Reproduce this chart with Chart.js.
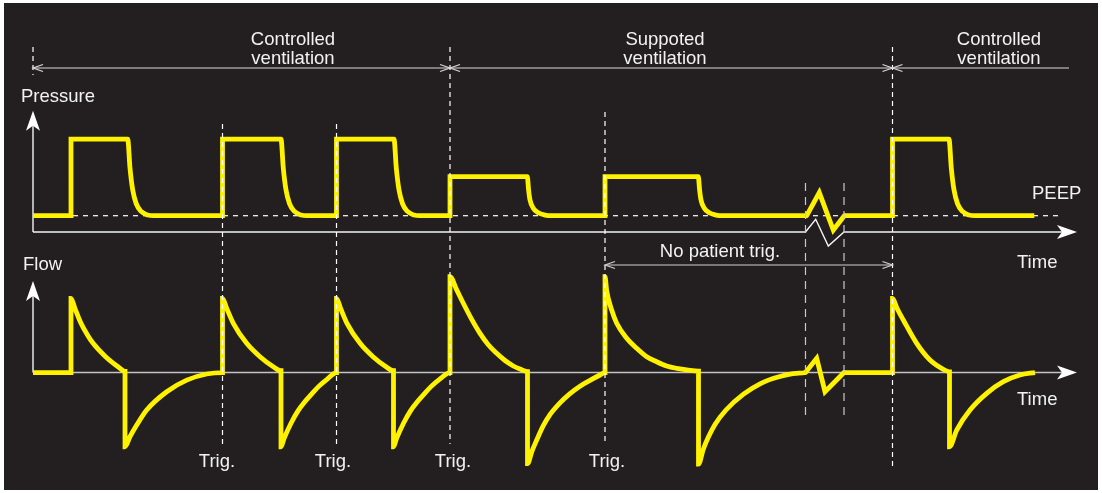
<!DOCTYPE html>
<html><head><meta charset="utf-8">
<script src="https://cdn.jsdelivr.net/npm/chart.js@4.4.1/dist/chart.umd.min.js"></script>
<style>
html,body{margin:0;padding:0;background:#ffffff;}
#wrap{width:1102px;height:493px;position:relative;}
</style>
</head><body>
<div id="wrap"><canvas id="c"></canvas></div>
<script>
// ---- DATA (time in s, pressure in cmH2O, flow in L/min) ----
const pressureTime = [0,0.38,0.38,0.947,0.970,0.997,1.032,1.082,1.147,1.207,
  1.895,1.895,2.480,2.503,2.530,2.565,2.615,2.680,2.740,
  3.035,3.035,3.610,3.633,3.660,3.695,3.745,3.810,3.870,
  4.170,4.170,4.943,4.956,4.970,5.003,5.053,5.120,5.186,
  5.720,5.720,6.653,6.666,6.680,6.713,6.763,6.830,6.896,
  7.737,7.863,8.003,8.113,
  8.595,8.595,9.160,9.183,9.210,9.245,9.295,9.360,9.420,10.013];
const pressureValue = [5,5,28.5,28.5,19.6,12.9,8.7,6.3,5.2,5.0,
  5,28.5,28.5,19.6,12.9,8.7,6.3,5.2,5.0,
  5,28.5,28.5,19.6,12.9,8.7,6.3,5.2,5.0,
  5,17,17,12.9,9.8,7.3,5.9,5.2,5.0,
  5,17,17,12.9,9.8,7.3,5.9,5.2,5.0,
  5,12.1,0.6,5,
  5,28.5,28.5,19.6,12.9,8.7,6.3,5.2,5.0,5];

const flowTime = [
  0,0.38,0.38,0.419,0.480,0.540,0.601,0.726,0.850,0.920,
  0.920,0.970,1.037,1.137,1.337,1.537,1.737,1.895,
  1.895,1.937,2.003,2.137,2.270,2.403,2.480,
  2.480,2.510,2.580,2.650,2.720,2.790,2.860,2.940,3.035,
  3.035,3.076,3.140,3.271,3.400,3.530,3.605,
  3.605,3.635,3.705,3.775,3.845,3.915,3.985,4.065,4.170,
  4.170,4.237,4.303,4.387,4.470,4.553,4.637,4.720,4.803,4.870,4.945,
  4.945,4.990,5.037,5.103,5.170,5.270,5.370,5.470,5.570,5.670,5.720,
  5.720,5.737,5.787,5.837,5.937,6.037,6.137,6.237,6.337,6.437,6.553,6.655,
  6.655,6.703,6.755,6.820,6.930,7.105,7.280,7.460,7.635,7.725,
  7.837,7.920,8.110,8.595,
  8.595,8.640,8.703,8.837,8.970,9.103,9.165,
  9.165,9.237,9.370,9.537,9.703,9.870,10.020];
const flowValue = [
  0,0,60,51.9,39.8,31,23.6,12.8,4.7,1.0,
  -60,-51.9,-42.5,-30.3,-15.5,-6.1,-1.2,0,
  60,51.9,39.8,23.6,12.8,4.7,1.5,
  -60,-53.5,-41,-31,-23.5,-17,-11,-5.5,0,
  60,51.9,39.8,23.6,12.8,4.7,1.5,
  -60,-53.5,-41,-31,-23.5,-17,-11,-5.5,0,
  77.5,66.8,56,43,31.7,22.5,15.5,9.7,5.3,2.8,0.8,
  -73.6,-63.5,-54.6,-43,-34,-24.5,-17,-11,-6.3,-2,0,
  77.5,66,50.5,39.8,27.7,19.6,12.8,8.7,5.3,3.4,2,1.2,
  -74,-62,-52,-42,-30.3,-17.5,-8.7,-3.4,-0.6,0,
  11.5,-15.5,0,0,
  60,52,42.5,23.6,10.1,2.6,0.6,
  -60,-46.5,-30.3,-16.8,-7.4,-2,0];

const triggerTimes = [1.895, 3.035, 4.17, 5.72];
const modeChangeTimes = [0, 4.17, 8.595];
const modeLabels = [['Controlled','ventilation'],['Suppoted','ventilation'],['Controlled','ventilation']];
const breakTimes = [7.725, 8.11];
const axisBreakTime = [7.725, 7.827, 7.953, 8.11];
const axisBreakPressure = [0, 3.9, -4.3, 0];
const peepLevel = 5;

// ---- layout / styling (not data) ----
const BG = '#231f20', YEL = '#fff200', TXT = '#f2f2f2';
const FONT = '18.5px "Liberation Sans", Arial, Helvetica, sans-serif';
const modeLabelCenters = [2.60, 6.32, 9.66];
const trigLabelCenters = [1.84, 3.00, 4.20, 5.74];
const BRK_LO = breakTimes[0] - 0.01, BRK_HI = breakTimes[1] + 0.01;

function arrowHead(ctx, tipX, tipY, dir){
  ctx.beginPath();
  if(dir==='up'){
    ctx.moveTo(tipX, tipY); ctx.lineTo(tipX+7, tipY+20); ctx.lineTo(tipX, tipY+15); ctx.lineTo(tipX-7, tipY+20);
  } else {
    ctx.moveTo(tipX, tipY); ctx.lineTo(tipX-20, tipY-7); ctx.lineTo(tipX-15, tipY); ctx.lineTo(tipX-20, tipY+7);
  }
  ctx.closePath(); ctx.fill();
}
function chevron(ctx, tipX, y, dir){
  ctx.beginPath();
  ctx.moveTo(tipX - dir*10, y-3.5); ctx.lineTo(tipX, y); ctx.lineTo(tipX - dir*10, y+3.5);
  ctx.stroke();
}

const deco = {
  id:'deco',
  beforeDraw(chart){
    const ctx = chart.ctx;
    ctx.save();
    ctx.fillStyle = '#ffffff'; ctx.fillRect(0,0,chart.width,chart.height);
    ctx.fillStyle = BG; ctx.fillRect(4,3,1094,487);
    ctx.restore();
  },
  beforeDatasetsDraw(chart){
    const ctx = chart.ctx, xs = chart.scales.x, yP = chart.scales.yP, yF = chart.scales.yF;
    const X = t => xs.getPixelForValue(t);
    ctx.save();
    ctx.strokeStyle = '#ffffff'; ctx.lineWidth = 1.2; ctx.setLineDash([5,5]);
    ctx.beginPath(); ctx.moveTo(X(0), yP.getPixelForValue(peepLevel)); ctx.lineTo(X(10.26), yP.getPixelForValue(peepLevel)); ctx.stroke();
    ctx.setLineDash([]);
    const p0 = yP.getPixelForValue(0);
    ctx.strokeStyle = '#f4f4f4'; ctx.fillStyle = '#ffffff'; ctx.lineWidth = 1.4;
    ctx.beginPath(); ctx.moveTo(X(0), p0); ctx.lineTo(X(0), 126); ctx.stroke();
    arrowHead(ctx, X(0), 110.7, 'up');
    ctx.beginPath(); ctx.moveTo(X(0), p0);
    for(let i=0;i<axisBreakTime.length;i++) ctx.lineTo(X(axisBreakTime[i]), yP.getPixelForValue(axisBreakPressure[i]));
    ctx.lineTo(1062, p0); ctx.stroke();
    arrowHead(ctx, 1077, p0, 'right');
    const f0 = yF.getPixelForValue(0);
    ctx.beginPath(); ctx.moveTo(X(0), f0); ctx.lineTo(X(0), 296); ctx.stroke();
    arrowHead(ctx, X(0), 281, 'up');
    ctx.strokeStyle = '#c4c4c4'; ctx.lineWidth = 1.5;
    ctx.beginPath(); ctx.moveTo(X(0), f0); ctx.lineTo(1062, f0); ctx.stroke();
    ctx.fillStyle = '#ffffff';
    arrowHead(ctx, 1077, f0, 'right');
    ctx.restore();
  },
  afterDatasetsDraw(chart){
    const ctx = chart.ctx, xs = chart.scales.x;
    const X = t => xs.getPixelForValue(t);
    ctx.save();
    ctx.strokeStyle = '#ffffff'; ctx.lineWidth = 1.2; ctx.setLineDash([5,4]);
    const vlines = [[0,47,75],[triggerTimes[0],124,444],[triggerTimes[1],124,444],[modeChangeTimes[1],47,444],[triggerTimes[3],112,444],[modeChangeTimes[2],47,468]];
    vlines.forEach(v=>{ctx.beginPath(); ctx.moveTo(X(v[0]), v[1]); ctx.lineTo(X(v[0]), v[2]); ctx.stroke();});
    ctx.strokeStyle = '#c8c8c8'; ctx.setLineDash([8,6]);
    breakTimes.forEach(t=>{ctx.beginPath(); ctx.moveTo(X(t),183); ctx.lineTo(X(t),416); ctx.stroke();});
    ctx.setLineDash([]);
    ctx.strokeStyle = '#d8d8d8'; ctx.lineWidth = 1.2;
    const ty = 68;
    ctx.beginPath(); ctx.moveTo(X(0), ty); ctx.lineTo(1069, ty); ctx.stroke();
    chevron(ctx, X(0), ty, -1);
    chevron(ctx, X(modeChangeTimes[1]), ty, 1); chevron(ctx, X(modeChangeTimes[1]), ty, -1);
    chevron(ctx, X(modeChangeTimes[2]), ty, 1); chevron(ctx, X(modeChangeTimes[2]), ty, -1);
    const ny = 265;
    ctx.strokeStyle = '#cfcfcf';
    ctx.beginPath(); ctx.moveTo(X(triggerTimes[3]), ny); ctx.lineTo(X(modeChangeTimes[2]), ny); ctx.stroke();
    chevron(ctx, X(triggerTimes[3]), ny, -1); chevron(ctx, X(modeChangeTimes[2]), ny, 1);
    ctx.fillStyle = TXT; ctx.font = FONT; ctx.textBaseline = 'alphabetic';
    ctx.textAlign = 'center';
    modeLabels.forEach((l,i)=>{ ctx.fillText(l[0], X(modeLabelCenters[i]), 45); ctx.fillText(l[1], X(modeLabelCenters[i]), 64); });
    trigLabelCenters.forEach(t=>ctx.fillText('Trig.', X(t), 467));
    ctx.fillText('No patient trig.', 720, 257);
    ctx.textAlign = 'left';
    ctx.fillText('Pressure', 21, 101.5);
    ctx.fillText('Flow', 23, 270);
    ctx.fillText('PEEP', 1032, 199);
    ctx.fillText('Time', 1017, 268);
    ctx.fillText('Time', 1017, 405);
    ctx.restore();
  }
};

const toPts = (ts, vs) => ts.map((t,i)=>({x:t, y:vs[i]}));
const inBreak = t => t >= BRK_LO && t <= BRK_HI;
const segHide = {borderColor: c => (inBreak(c.p0.parsed.x) && inBreak(c.p1.parsed.x)) ? 'rgba(0,0,0,0)' : undefined};
const mainStyle = {borderColor:YEL, borderWidth:4.8, pointRadius:0, fill:false, cubicInterpolationMode:'monotone', borderJoinStyle:'miter', borderCapStyle:'butt', segment:segHide};
const brkStyle = {borderColor:YEL, borderWidth:4.8, pointRadius:0, fill:false, tension:0, borderJoinStyle:'miter', borderCapStyle:'round'};
const pPts = toPts(pressureTime, pressureValue), fPts = toPts(flowTime, flowValue);

new Chart(document.getElementById('c'), {
  type:'line',
  data:{datasets:[
    Object.assign({label:'Pressure', data:pPts, yAxisID:'yP'}, mainStyle),
    Object.assign({label:'Flow', data:fPts, yAxisID:'yF'}, mainStyle),
    Object.assign({label:'Pressure (break)', data:pPts.filter(p=>inBreak(p.x)), yAxisID:'yP'}, brkStyle),
    Object.assign({label:'Flow (break)', data:fPts.filter(p=>inBreak(p.x)), yAxisID:'yF'}, brkStyle)
  ]},
  options:{
    responsive:true, maintainAspectRatio:false, animation:false, events:[],
    layout:{padding:0},
    plugins:{legend:{display:false}, tooltip:{enabled:false}},
    scales:{
      x:{type:'linear', display:false, min:-0.33, max:10.69},
      yP:{type:'linear', display:false, min:-80.06, max:71.17},
      yF:{type:'linear', display:false, min:-97.4, max:301.2}
    }
  },
  plugins:[deco]
});
</script>
</body></html>
